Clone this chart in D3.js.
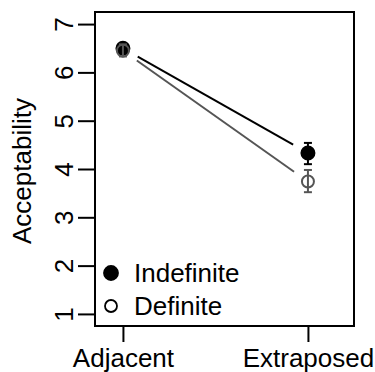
<!DOCTYPE html>
<html lang="en">
<head>
    <meta charset="UTF-8">
    <title>Acceptability by position</title>
    <script src="https://d3js.org/d3.v7.min.js"></script>
    <style>
        body { margin: 0; background: #fff; }
        text { font-family: "Liberation Sans", Arial, Helvetica, sans-serif; }
    </style>
</head>
<body>
    <svg width="375" height="372"></svg>

    <script>
        // Data
        const conditions = ["Adjacent", "Extraposed"];
        const seriesNames = ["Indefinite", "Definite"];
        const indefMeans = [6.50, 4.33];
        const indefLow = [6.40, 4.10];
        const indefHigh = [6.60, 4.54];
        const defMeans = [6.45, 3.74];
        const defLow = [6.33, 3.52];
        const defHigh = [6.58, 3.98];
        const yTicks = [1, 2, 3, 4, 5, 6, 7];

        const series = [
            { name: seriesNames[0], means: indefMeans, low: indefLow, high: indefHigh, color: "#000", filled: true },
            { name: seriesNames[1], means: defMeans, low: defLow, high: defHigh, color: "#555", filled: false }
        ];

        const fontSize = 26;
        const box = { left: 95, right: 354, top: 12, bottom: 326 };
        const svg = d3.select("svg");

        const x = d3.scaleLinear().domain([0.849, 2.249]).range([box.left, box.right]);
        const y = d3.scaleLinear().domain([0.75, 7.25]).range([box.bottom, box.top]);

        // Y axis
        const yAxis = svg.append("g")
            .attr("transform", `translate(${box.left},0)`)
            .call(d3.axisLeft(y).tickValues(yTicks).tickSize(17).tickSizeOuter(0).tickFormat(d3.format("d")));
        yAxis.select(".domain").remove();
        yAxis.selectAll("line").attr("stroke", "#000").attr("stroke-width", 2);
        yAxis.selectAll("text")
            .attr("x", 0).attr("y", -22).attr("dy", 0)
            .attr("text-anchor", "middle")
            .attr("transform", "rotate(-90)")
            .attr("font-size", fontSize).attr("fill", "#000")
            .style("font-family", "Liberation Sans, Arial, sans-serif");

        // X axis
        const xAxis = svg.append("g")
            .attr("transform", `translate(0,${box.bottom})`)
            .call(d3.axisBottom(x).tickValues([1, 2]).tickSize(16).tickSizeOuter(0)
                .tickFormat((d, i) => conditions[i]));
        xAxis.select(".domain").remove();
        xAxis.selectAll("line").attr("stroke", "#000").attr("stroke-width", 2);
        xAxis.selectAll("text")
            .attr("y", 41).attr("dy", 0)
            .attr("font-size", fontSize).attr("fill", "#000")
            .style("font-family", "Liberation Sans, Arial, sans-serif");

        // Axis title
        svg.append("text")
            .attr("transform", `translate(31,${(box.top + box.bottom) / 2 + 2}) rotate(-90)`)
            .attr("text-anchor", "middle")
            .attr("font-size", fontSize)
            .text("Acceptability");

        // Plot box
        svg.append("rect")
            .attr("x", box.left).attr("y", box.top)
            .attr("width", box.right - box.left).attr("height", box.bottom - box.top)
            .attr("fill", "none").attr("stroke", "#000").attr("stroke-width", 2);

        // Connecting lines with gaps around the points
        const gap = 17;
        series.forEach(s => {
            const x1 = x(1), y1 = y(s.means[0]), x2 = x(2), y2 = y(s.means[1]);
            const len = Math.hypot(x2 - x1, y2 - y1);
            const ux = (x2 - x1) / len, uy = (y2 - y1) / len;
            svg.append("line")
                .attr("x1", x1 + ux * gap).attr("y1", y1 + uy * gap)
                .attr("x2", x2 - ux * gap).attr("y2", y2 - uy * gap)
                .attr("stroke", s.color).attr("stroke-width", 2);
        });

        // Error bars and points
        const cap = 4;
        series.forEach(s => {
            const g = svg.append("g");
            s.means.forEach((m, i) => {
                const cx = x(i + 1);
                g.append("line")
                    .attr("x1", cx).attr("x2", cx)
                    .attr("y1", y(s.low[i])).attr("y2", y(s.high[i]))
                    .attr("stroke", s.color).attr("stroke-width", 2);
                [s.low[i], s.high[i]].forEach(v => {
                    g.append("line")
                        .attr("x1", cx - cap).attr("x2", cx + cap)
                        .attr("y1", y(v)).attr("y2", y(v))
                        .attr("stroke", s.color).attr("stroke-width", 2);
                });
                g.append("circle")
                    .attr("cx", cx).attr("cy", y(m))
                    .attr("r", s.filled ? 6.5 : 6)
                    .attr("fill", s.filled ? s.color : "none")
                    .attr("stroke", s.color).attr("stroke-width", 2);
            });
        });

        // Legend
        const legend = svg.append("g");
        const legendY = [273, 306];
        series.forEach((s, i) => {
            legend.append("circle")
                .attr("cx", 111).attr("cy", legendY[i])
                .attr("r", s.filled ? 7 : 6)
                .attr("fill", s.filled ? "#000" : "none")
                .attr("stroke", "#000").attr("stroke-width", 1.8);
            legend.append("text")
                .attr("x", 134).attr("y", legendY[i] + 9)
                .attr("font-size", fontSize)
                .text(s.name);
        });
    </script>
</body>
</html>
